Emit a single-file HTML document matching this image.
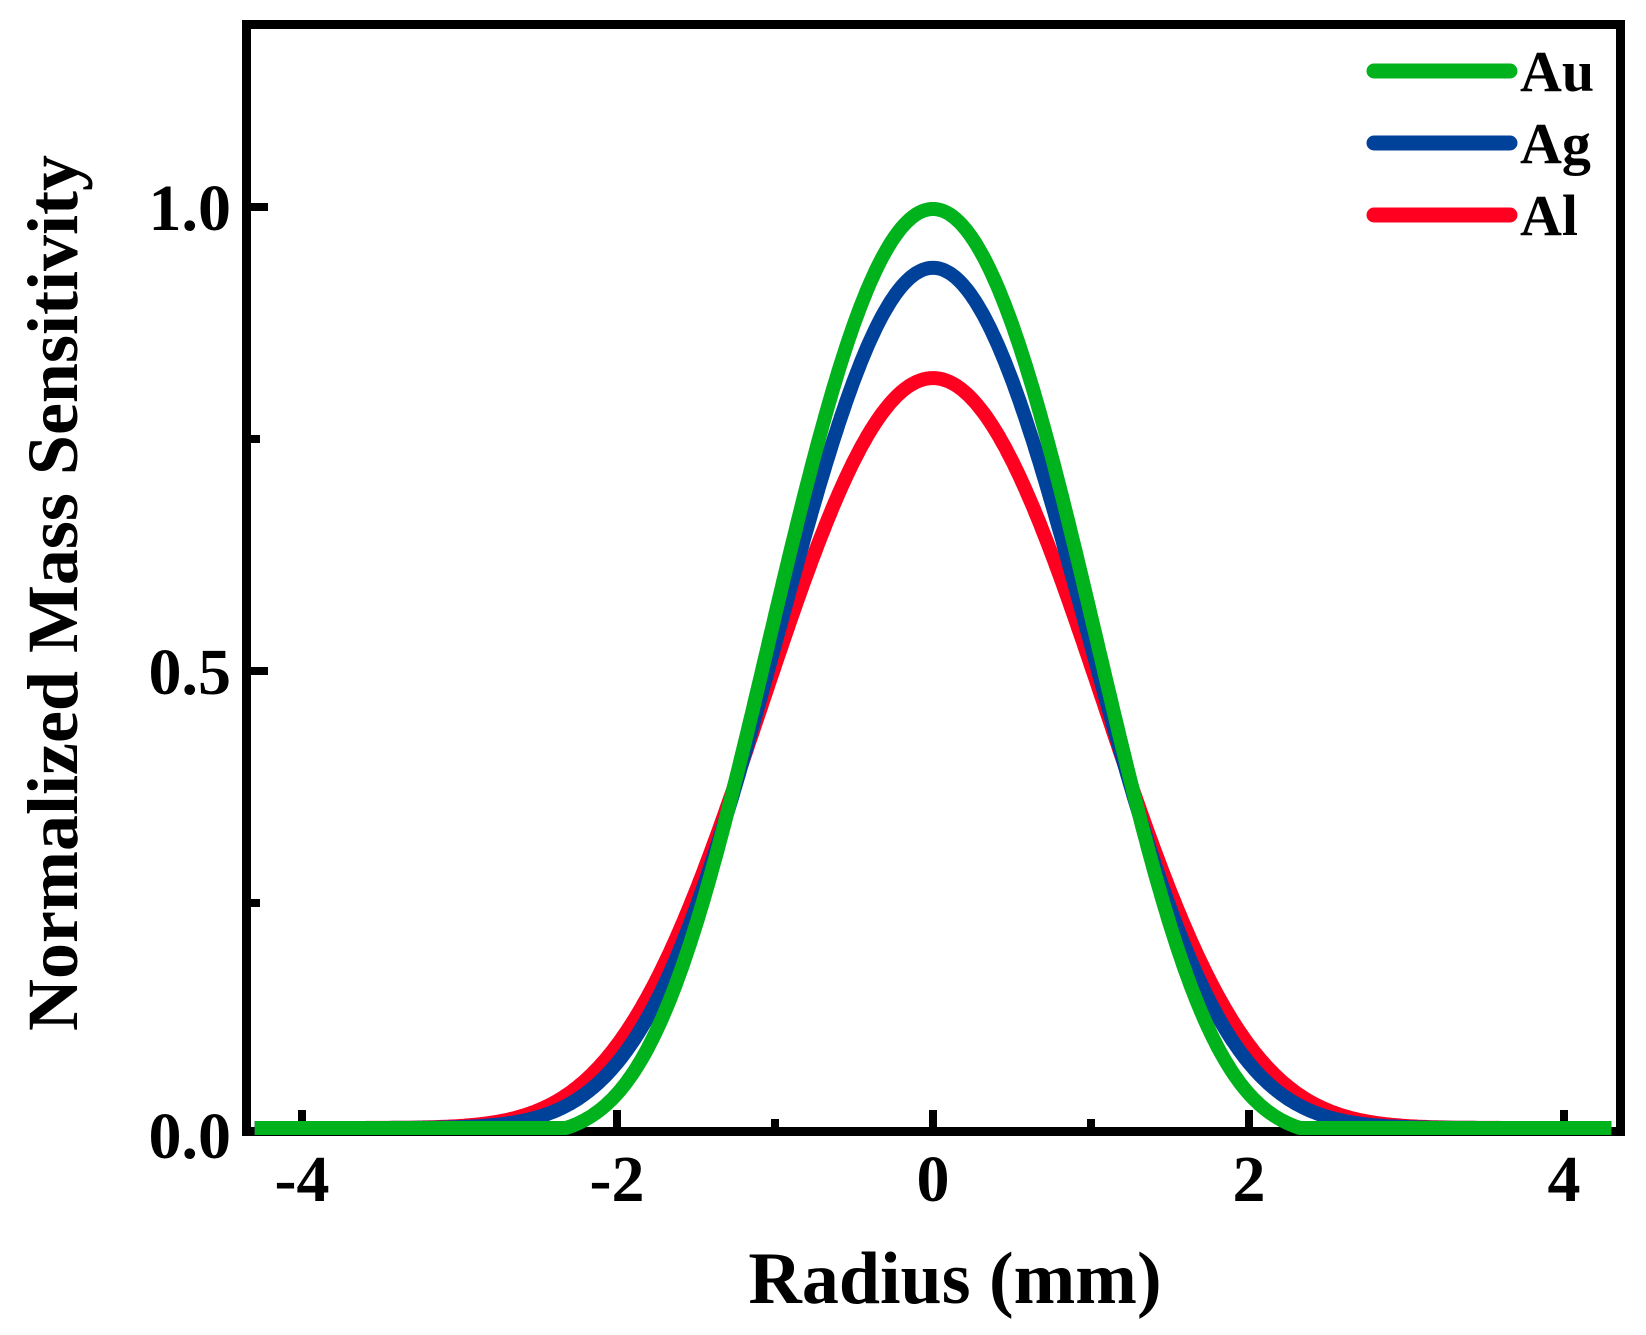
<!DOCTYPE html>
<html><head><meta charset="utf-8"><style>
html,body{margin:0;padding:0;background:#fff;}
svg{display:block;}
text{font-family:"Liberation Serif",serif;font-weight:bold;fill:#000;}
</style></head><body>
<svg id="s" width="1646" height="1335" viewBox="0 0 1646 1335" xmlns="http://www.w3.org/2000/svg">
<rect x="246.5" y="24.5" width="1374" height="1107" fill="none" stroke="#000" stroke-width="9"/>
<g stroke="#000" stroke-width="8">
<line x1="251" y1="207" x2="268" y2="207"/>
<line x1="251" y1="671" x2="268" y2="671"/>
<line x1="251" y1="439" x2="260" y2="439"/>
<line x1="251" y1="903" x2="260" y2="903"/>
<line x1="302" y1="1127" x2="302" y2="1110"/>
<line x1="617" y1="1127" x2="617" y2="1110"/>
<line x1="933" y1="1127" x2="933" y2="1110"/>
<line x1="1249" y1="1127" x2="1249" y2="1110"/>
<line x1="1564" y1="1127" x2="1564" y2="1110"/>
<line x1="775" y1="1127" x2="775" y2="1119"/>
<line x1="1091" y1="1127" x2="1091" y2="1119"/>
</g>
<g id="curves2" fill="none" stroke-width="14" stroke-linejoin="round"></g>
<g font-size="66" text-anchor="end">
<text x="231" y="230">1.0</text>
<text x="231" y="694">0.5</text>
<text x="231" y="1158">0.0</text>
</g>
<g font-size="66" text-anchor="middle">
<text x="302" y="1201">-4</text>
<text x="617" y="1201">-2</text>
<text x="933" y="1201">0</text>
<text x="1249" y="1201">2</text>
<text x="1564" y="1201">4</text>
</g>
<text x="955" y="1303" font-size="74" text-anchor="middle">Radius (mm)</text>
<text transform="translate(77,593) rotate(-90)" font-size="72" text-anchor="middle">Normalized Mass Sensitivity</text>
<g stroke-width="15" stroke-linecap="round">
<line x1="1374" y1="71" x2="1510" y2="71" stroke="#00b21b"/>
<line x1="1374" y1="143" x2="1510" y2="143" stroke="#00429a"/>
<line x1="1374" y1="215" x2="1510" y2="215" stroke="#ff0020"/>
</g>
<g font-size="58">
<text x="1520" y="91">Au</text>
<text x="1520" y="163">Ag</text>
<text x="1520" y="235">Al</text>
</g>
</svg>
<script>
(function(){
var series=[
 ["#ff0020",0.816,0.46,0.022,0],
 ["#00429a",0.936,0.552,0.0229,0],
 ["#00b21b",1.0,0.512,0.0626,0.01]
];
var g=document.getElementById('curves2'),ns="http://www.w3.org/2000/svg";
series.forEach(function(s){var pts=[];
for(var x=-4.3;x<=4.3001;x+=0.01){var x2=x*x;var f=Math.exp(-s[2]*x2-s[3]*x2*x2);
var v=s[1]*Math.max(0,(f-s[4])/(1-s[4]));
pts.push((933+157.75*x).toFixed(1)+","+(1128-919*v).toFixed(1));}
var p=document.createElementNS(ns,"polyline");p.setAttribute("points",pts.join(" "));p.setAttribute("stroke",s[0]);g.appendChild(p);});
})();
</script>
</body></html>
